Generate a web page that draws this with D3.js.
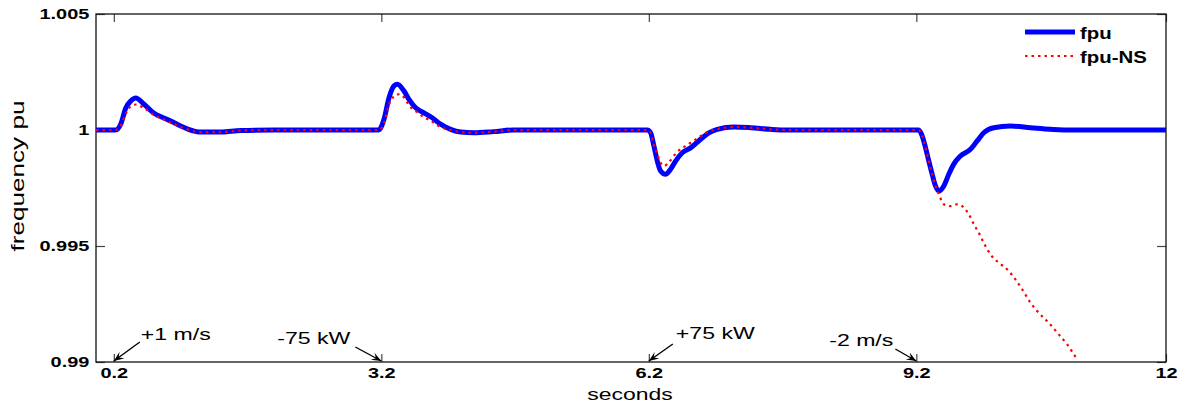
<!DOCTYPE html>
<html>
<head>
<meta charset="utf-8">
<script src="https://cdn.jsdelivr.net/npm/d3@7"></script>
<style>
  body { margin: 0; background: #fff; }
  svg { display: block; font-family: "Liberation Sans", Arial, sans-serif; }
</style>
</head>
<body>
<svg id="chart" width="1186" height="410"></svg>
<script>
// frequency response, with and without storage

const tFpu = [0, 0.22, 0.278, 0.334, 0.39, 0.446, 0.536, 0.648, 0.76, 0.839, 0.95, 1.03, 1.175, 1.4, 1.624, 2.0,
  3.17, 3.23, 3.286, 3.342, 3.38, 3.454, 3.51, 3.585, 3.678, 3.77, 3.864, 3.977, 4.09, 4.236, 4.46, 4.684,
  6.183, 6.22, 6.257, 6.295, 6.332, 6.388, 6.444, 6.5, 6.575, 6.668, 6.78, 6.873, 6.967, 7.154, 7.34, 7.565, 7.752,
  9.228, 9.266, 9.303, 9.34, 9.378, 9.415, 9.452, 9.508, 9.564, 9.62, 9.695, 9.807, 9.882, 9.956, 10.068, 10.256, 10.48, 10.7, 10.85, 12];
const fpu = [1, 1, 1.00026, 1.00095, 1.00125, 1.00138, 1.00112, 1.00073, 1.00052, 1.00039, 1.00017, 1.00004, 0.99991, 0.99991, 0.99998, 1,
  1, 1.00046, 1.00139, 1.0019, 1.00197, 1.00168, 1.00132, 1.00096, 1.00074, 1.00053, 1.00025, 1.00003, 0.99991, 0.99988, 0.99993, 1,
  1, 0.99988, 0.99931, 0.99866, 0.99823, 0.99809, 0.99831, 0.99866, 0.99902, 0.99923, 0.9996, 0.99988, 1.00003, 1.00013, 1.0001, 1.00003, 1,
  1, 0.99974, 0.99924, 0.99866, 0.99809, 0.99759, 0.99737, 0.99759, 0.99809, 0.99853, 0.99888, 0.99917, 0.99953, 0.99988, 1.0001, 1.00017, 1.0001, 1.00003, 1, 1];

const tNS = [0, 0.22, 0.278, 0.334, 0.39, 0.446, 0.536, 0.648, 0.76, 0.85, 0.95, 1.03, 1.175, 1.4, 1.624, 2.0,
  3.17, 3.23, 3.286, 3.342, 3.4, 3.44, 3.48, 3.535, 3.61, 3.685, 3.76, 3.81, 3.885, 3.977, 4.09, 4.236, 4.46, 4.684,
  6.183, 6.22, 6.257, 6.295, 6.332, 6.37, 6.42, 6.51, 6.64, 6.73, 6.84, 6.967, 7.154, 7.34, 7.565, 7.752,
  9.228, 9.266, 9.303, 9.34, 9.378, 9.415, 9.452, 9.508, 9.583, 9.658, 9.714, 9.788, 9.844, 9.9, 9.956, 10.031,
  10.124, 10.218, 10.311, 10.387, 10.48, 10.573, 10.685, 10.797, 10.891, 11.003];
const fpuNS = [1, 1, 1.0002, 1.0007, 1.00102, 1.0011, 1.00095, 1.00065, 1.00045, 1.0003, 1.00013, 1.00002, 0.99991, 0.99991, 0.99998, 1,
  1, 1.0003, 1.0011, 1.00145, 1.00154, 1.00147, 1.00125, 1.00096, 1.00075, 1.00053, 1.00039, 1.00025, 1.0001, 1.0, 0.99991, 0.99988, 0.99993, 1,
  1, 0.99988, 0.99935, 0.99895, 0.99859, 0.99845, 0.99859, 0.99902, 0.99938, 0.9996, 0.99988, 1.00003, 1.00013, 1.0001, 1.00003, 1,
  1, 0.99974, 0.99924, 0.99866, 0.99809, 0.99759, 0.99723, 0.9968, 0.99672, 0.9968, 0.99672, 0.99637, 0.99594, 0.99557, 0.99514, 0.99464,
  0.99428, 0.994, 0.99356, 0.99313, 0.99256, 0.99212, 0.99169, 0.99119, 0.99076, 0.99011];

const xTicks = [0.2, 3.2, 6.2, 9.2, 12];
const xTickLabels = ["0.2", "3.2", "6.2", "9.2", "12"];
const yTicks = [0.99, 0.995, 1, 1.005];
const yTickLabels = ["0.99", "0.995", "1", "1.005"];

const eventTimes = [0.2, 3.2, 6.2, 9.2];
const eventLabels = ["+1 m/s", "-75 kW", "+75 kW", "-2 m/s"];

const seriesNames = ["fpu", "fpu-NS"];

// layout
const plot = { left: 96, top: 14, right: 1166, bottom: 362 };
const sx = 1.33; // the original figure is stretched sideways

const svg = d3.select("#chart");

const x = d3.scaleLinear().domain([0, 12]).range([plot.left, plot.right]);
const y = d3.scaleLinear().domain([0.99, 1.005]).range([plot.bottom, plot.top]);

svg.append("defs").append("clipPath").attr("id", "clip")
  .append("rect")
  .attr("x", plot.left).attr("y", plot.top)
  .attr("width", plot.right - plot.left).attr("height", plot.bottom - plot.top);

svg.select("defs").append("marker")
  .attr("id", "arrow")
  .attr("markerUnits", "userSpaceOnUse")
  .attr("viewBox", "-10 -5 11 10")
  .attr("refX", 0).attr("refY", 0)
  .attr("markerWidth", 11).attr("markerHeight", 10)
  .attr("orient", "auto")
  .append("path")
  .attr("d", "M0,0 L-10,-4 L-6,0 L-10,4 Z")
  .attr("fill", "#000");

// axes (ticks point inward, all four sides)
const xAxis = svg.append("g")
  .attr("transform", `translate(0,${plot.bottom})`)
  .call(d3.axisBottom(x).tickValues(xTicks).tickSize(-8).tickSizeOuter(0).tickPadding(5)
    .tickFormat((d, i) => xTickLabels[i]));
svg.append("g")
  .attr("transform", `translate(0,${plot.top})`)
  .call(d3.axisTop(x).tickValues(xTicks).tickSize(-8).tickSizeOuter(0).tickFormat(""));

const yAxis = svg.append("g")
  .attr("transform", `translate(${plot.left},0)`)
  .call(d3.axisLeft(y).tickValues(yTicks).tickSize(-9).tickSizeOuter(0).tickPadding(5)
    .tickFormat((d, i) => yTickLabels[i]));
svg.append("g")
  .attr("transform", `translate(${plot.right},0)`)
  .call(d3.axisRight(y).tickValues(yTicks).tickSize(-9).tickSizeOuter(0).tickFormat(""));

svg.selectAll(".tick line").attr("stroke", "#444").attr("stroke-width", 1.2);
svg.selectAll(".domain").attr("stroke", "none");

[xAxis, yAxis].forEach(g => g.selectAll("text")
  .attr("fill", "#000")
  .style("font-size", "15px")
  .style("font-weight", "bold")
  .attr("transform", `scale(${sx},1)`));

svg.append("rect")
  .attr("x", plot.left).attr("y", plot.top)
  .attr("width", plot.right - plot.left).attr("height", plot.bottom - plot.top)
  .attr("fill", "none").attr("stroke", "#111").attr("stroke-width", 1.3);

// curves
const line = d3.line()
  .x(d => x(d[0]))
  .y(d => y(d[1]))
  .curve(d3.curveMonotoneX);

const lines = svg.append("g").attr("clip-path", "url(#clip)");

lines.append("path")
  .datum(d3.zip(tFpu, fpu))
  .attr("d", line)
  .attr("fill", "none")
  .attr("stroke", "#0000ff")
  .attr("stroke-width", 5)
  .attr("stroke-linejoin", "round");

lines.append("path")
  .datum(d3.zip(tNS, fpuNS))
  .attr("d", line)
  .attr("fill", "none")
  .attr("stroke", "#ff0000")
  .attr("stroke-width", 2.2)
  .attr("stroke-dasharray", "2.5,4");

// event annotations: arrow offset and text anchor for each event
const eventLayout = [
  { dx: 26, dy: -19, tx: 27, ty: -22, anchor: "start" },
  { dx: -26, dy: -14, tx: -31, ty: -18, anchor: "end" },
  { dx: 24, dy: -17, tx: 27, ty: -23, anchor: "start" },
  { dx: -21, dy: -12, tx: -23, ty: -16, anchor: "end" }
];

eventTimes.forEach((t, i) => {
  const px = x(t), py = plot.bottom - 1, l = eventLayout[i];
  svg.append("line")
    .attr("x1", px + l.dx).attr("y1", py + l.dy)
    .attr("x2", px).attr("y2", py)
    .attr("stroke", "#000").attr("stroke-width", 1.4)
    .attr("marker-end", "url(#arrow)");
  svg.append("text")
    .attr("transform", `translate(${px + l.tx},${plot.bottom + l.ty}) scale(1.4,1)`)
    .attr("text-anchor", l.anchor)
    .style("font-size", "16.5px")
    .text(eventLabels[i]);
});

// axis titles
svg.append("text")
  .attr("transform", `translate(630,400) scale(1.35,1)`)
  .attr("text-anchor", "middle")
  .style("font-size", "17px")
  .text("seconds");

svg.append("text")
  .attr("transform", `translate(24,176) rotate(-90) scale(1.45,1)`)
  .attr("text-anchor", "middle")
  .style("font-size", "18px")
  .text("frequency pu");

// legend
const legend = svg.append("g");
seriesNames.forEach((name, i) => {
  const ly = 32 + i * 24;
  legend.append("line")
    .attr("x1", 1025).attr("x2", 1075).attr("y1", ly).attr("y2", ly)
    .attr("stroke", i === 0 ? "#0000ff" : "#ff0000")
    .attr("stroke-width", i === 0 ? 5 : 2.2)
    .attr("stroke-dasharray", i === 0 ? null : "2.5,4");
  legend.append("text")
    .attr("transform", `translate(1080,${ly + 7}) scale(1.2,1)`)
    .style("font-size", "17px")
    .style("font-weight", "bold")
    .text(name);
});
</script>
</body>
</html>
